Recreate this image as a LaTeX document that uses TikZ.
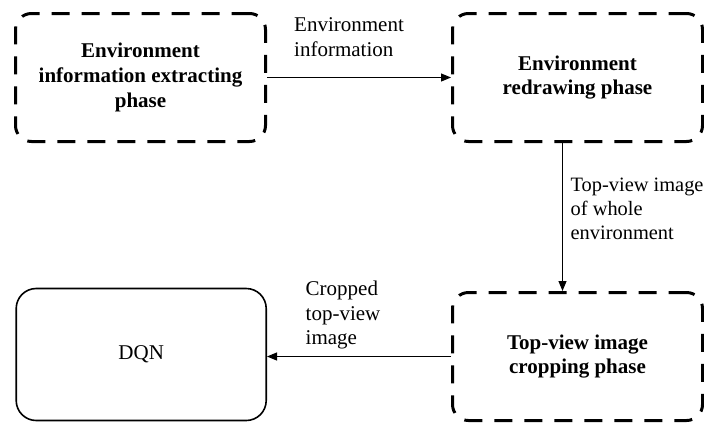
\documentclass[tikz,border=0pt]{standalone}
\usepackage{fontspec}
\setmainfont{Liberation Serif}
\usetikzlibrary{arrows.meta, positioning}

\begin{document}
\begin{tikzpicture}
			\tikzset {>={Triangle[length=5pt, width=4pt]}, node distance=92pt,
				phasebox/.style={draw, line width=1.5pt, dash pattern=on 9pt off 6pt, rounded corners=8pt, minimum width=125pt, minimum height=64pt, align=center, font=\fontsize{10.5}{12.3}\selectfont\bfseries},
				netbox/.style={draw, line width=0.8pt, rounded corners=10pt, minimum width=125pt, minimum height=66pt, font=\fontsize{10.5}{12.5}\selectfont},
				flow/.style={->, line width=0.5pt},
				flowlabel/.style={align=left, font=\fontsize{10.5}{12.3}\selectfont} }

			\useasboundingbox (0,0) rectangle (352pt,-211.5pt);

			\node[phasebox, anchor=north west] (extract) at (7pt,-6pt) {Environment\\information extracting\\phase};
			\node[phasebox, right=of extract] (redraw) {Environment\\redrawing phase};
			\node[phasebox, below=74pt of redraw] (crop) {Top-view image\\cropping phase};
			\node[netbox, left=92pt of crop, yshift=1pt] (dqn) {DQN};

			\path
				(extract) edge[flow] node[flowlabel, above=7pt, xshift=-5pt] {Environment\\information} (redraw)
				([xshift=-7.5pt]redraw.south) edge[flow] node[flowlabel, right, xshift=0.5pt, yshift=4pt, font=\fontsize{10.2}{12.1}\selectfont] {Top-view image\\of whole\\environment} ([xshift=-7.5pt]crop.north)
				(crop) edge[flow] node[flowlabel, above=0pt, xshift=-8pt] {Cropped\\top-view\\image} (dqn.east |- crop);
\end{tikzpicture}
\end{document}
